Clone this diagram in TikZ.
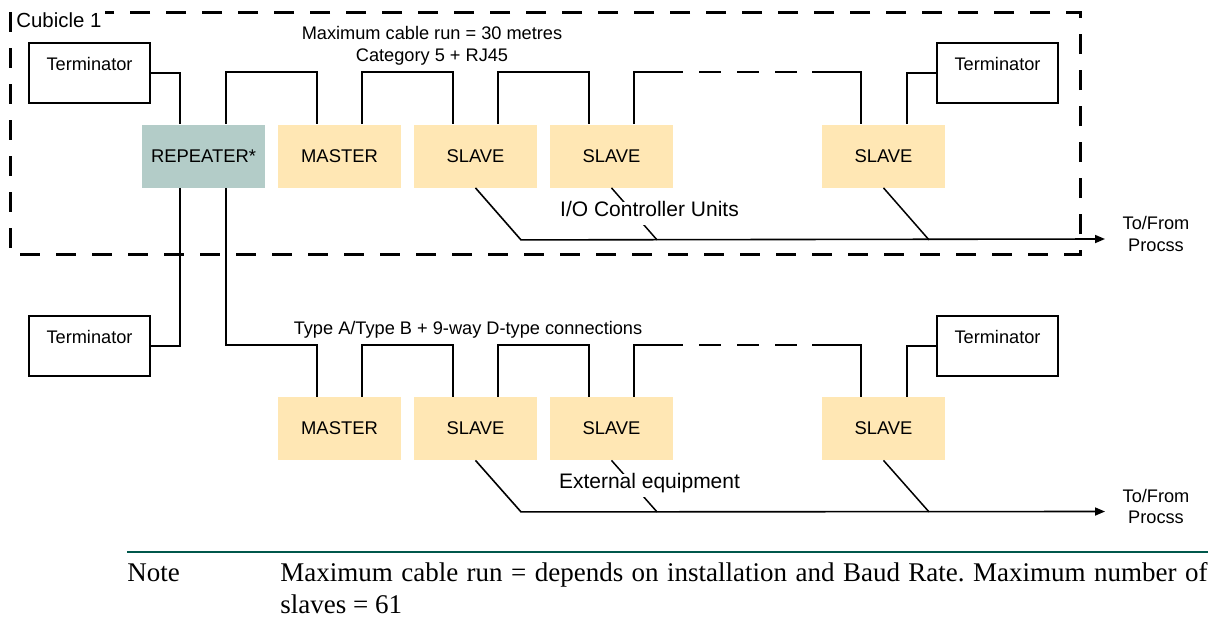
\documentclass[tikz,border=0pt]{standalone}
\usepackage{fontspec}
\setmainfont{Liberation Sans}
\newfontfamily\notefont{Liberation Serif}
\usetikzlibrary{calc,arrows.meta}
\definecolor{repfill}{HTML}{B3CCC8}
\definecolor{unitfill}{HTML}{FFE7B4}
\definecolor{rulecol}{HTML}{00574B}
\frenchspacing
\tikzset{
  x=0.5pt, y=-0.5pt,
  termbox/.style={draw, line width=1pt, minimum width=60.5pt, minimum height=30pt, inner sep=0pt,
    font=\fontsize{9.1pt}{11pt}\selectfont, text height=7pt, text depth=9.5pt},
  unitbox/.style={fill=unitfill, minimum width=61.5pt, minimum height=31.5pt, inner sep=0pt,
    font=\fontsize{9.2pt}{11pt}\selectfont},
  repbox/.style={unitbox, fill=repfill},
  wire/.style={line width=1pt},
  dwire/.style={line width=1pt, dash pattern=on 50.5pt off 8pt on 11pt off 8pt on 11pt off 8pt on 11pt off 7.5pt on 60pt},
  feed/.style={line width=0.8pt, -{Triangle[length=5pt,width=4pt]}},
  diag/.style={line width=0.75pt},
  lbl/.style={font=\fontsize{9.1pt}{11pt}\selectfont, inner sep=0pt, anchor=base},
  biglbl/.style={font=\fontsize{10.5pt}{12pt}\selectfont, inner sep=0pt, anchor=base, fill=white, text height=7.5pt, text depth=4.25pt},
  notetxt/.style={anchor=base west, inner sep=0pt, font=\notefont\fontsize{13.5pt}{15pt}\selectfont},
}
\begin{document}
\begin{tikzpicture}
\useasboundingbox (0,0) rectangle (1230,621);

% cubicle boundary
\draw[line width=1.5pt, dash pattern=on 10pt off 8pt] (10,12) rectangle (1080,254);
\node[fill=white, inner xsep=2pt, inner ysep=1pt, anchor=base west, font=\fontsize{10.2pt}{12pt}\selectfont] (cub) at (12,27.5) {Cubicle 1};

% top row
\node[termbox] (t1) at (89.5,73) {Terminator};
\node[termbox] (t2) at (997.5,73) {Terminator};
\node[repbox] (rep) at (203.5,156) {REPEATER*};
\node[unitbox] (m1) at (339.5,156) {MASTER};
\node[unitbox] (s1) at (475.5,156) {SLAVE};
\node[unitbox] (s2) at (611.5,156) {SLAVE};
\node[unitbox] (s3) at (883.5,156) {SLAVE};

% bottom row
\node[termbox] (t3) at (89.5,345.5) {Terminator};
\node[termbox] (t4) at (997.5,345.5) {Terminator};
\node[unitbox] (m2) at (339.5,428.5) {MASTER};
\node[unitbox] (s4) at (475.5,428.5) {SLAVE};
\node[unitbox] (s5) at (611.5,428.5) {SLAVE};
\node[unitbox] (s6) at (883.5,428.5) {SLAVE};

% labels
\node[lbl] (cap1) at (432,39.5) {Maximum cable run = 30 metres};
\node[lbl] (cap2) at (432,61.5) {Category 5 + RJ45};
\node[lbl] (cap3) at (468,334.5) {Type A/Type B + 9-way D-type connections};
\node[lbl] (tf1) at (1156,229.5) {To/From};
\node[lbl] (pr1) at (1156,251.5) {Procss};
\node[lbl] (tf2) at (1156,502.5) {To/From};
\node[lbl] (pr2) at (1156,523.5) {Procss};

% top bus
\draw[wire] (t1.east) -| ($(rep.north)+(-23.5,0)$);
\draw[wire] ($(rep.north)+(22.5,0)$) -- ++(0,-52) -| ($(m1.north)+(-22.5,0)$);
\draw[wire] ($(m1.north)+(22.5,0)$) -- ++(0,-52) -| ($(s1.north)+(-22.5,0)$);
\draw[wire] ($(s1.north)+(22.5,0)$) -- ++(0,-52) -| ($(s2.north)+(-22.5,0)$);
\draw[dwire] ($(s2.north)+(22.5,0)$) -- ++(0,-52) -| ($(s3.north)+(-22.5,0)$);
\draw[wire] ($(s3.north)+(23.5,0)$) |- (t2.west);

% repeater to lower bus
\draw[wire] ($(rep.south)+(-23.5,0)$) |- (t3.east);
\draw[wire] ($(rep.south)+(22.5,0)$) |- ($(m2.north)+(-22.5,-52)$) -- ($(m2.north)+(-22.5,0)$);
\draw[wire] ($(m2.north)+(22.5,0)$) -- ++(0,-52) -| ($(s4.north)+(-22.5,0)$);
\draw[wire] ($(s4.north)+(22.5,0)$) -- ++(0,-52) -| ($(s5.north)+(-22.5,0)$);
\draw[dwire] ($(s5.north)+(22.5,0)$) -- ++(0,-52) -| ($(s6.north)+(-22.5,0)$);
\draw[wire] ($(s6.north)+(23.5,0)$) |- (t4.west);

% process feeds
\coordinate (out1) at (1105,239);
\coordinate (out2) at (1105,511.5);
\draw[feed] (s1.south) -- ++(45.5,52) -- (out1);
\draw[diag] (s2.south) -- ++(45.5,52);
\draw[diag] (s3.south) -- ++(45.5,52);
\draw[feed] (s4.south) -- ++(45.5,51.5) -- (out2);
\draw[diag] (s5.south) -- ++(45.5,51.5);
\draw[diag] (s6.south) -- ++(45.5,51.5);

\node[biglbl] (io) at (649.5,216.5) {I/O Controller Units};
\node[biglbl] (ext) at (649.5,488.5) {External equipment};

% note
\draw[line width=1pt, rulecol] (127,552) -- (1208,552);
\node[notetxt] (note) at (127,581) {Note};
\node[notetxt] (nt1) at (280,581)
  {\makebox[463.5pt][s]{Maximum cable run = depends on installation and Baud Rate. Maximum number of}};
\node[notetxt] (nt2) at (280,613) {slaves = 61};
\end{tikzpicture}
\end{document}
